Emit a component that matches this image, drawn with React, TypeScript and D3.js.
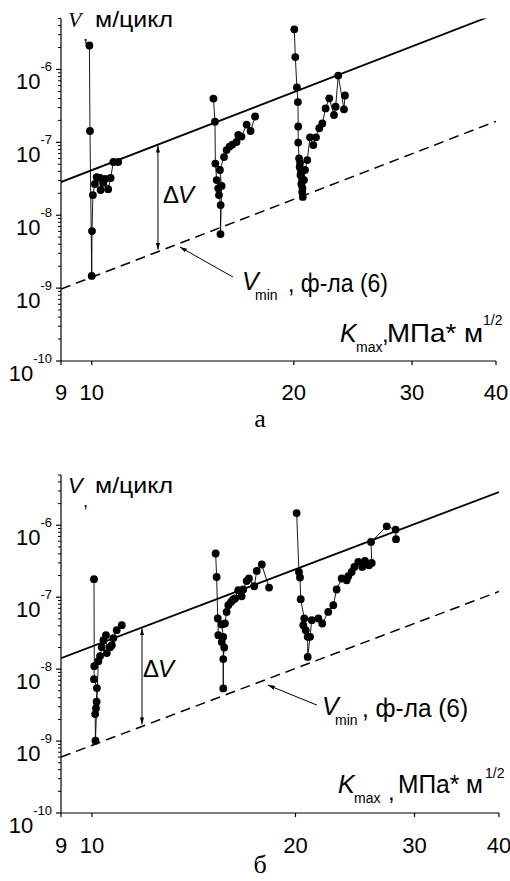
import React from 'react';
import * as d3 from 'd3';

// ---- axes ----
const kTicks = [9, 10, 20, 30, 40];
const vDecades = [-10, -9, -8, -7, -6];
const kDomain: [number, number] = [9, 40];
const vDomain: [number, number] = [1e-10, 5e-6];
const fitK = [9, 40];

// ---- panel а ----
const aS1K = [9.92, 9.94, 10.0, 10.01, 10.04, 10.11, 10.17, 10.29, 10.31, 10.4, 10.47, 10.58, 10.67, 10.77, 10.95];
const aS1V = [2.13e-6, 1.43e-7, 1.47e-9, 6.07e-9, 1.89e-8, 2.68e-8, 3.34e-8, 3.24e-8, 2.22e-8, 2.77e-8, 3.14e-8, 2.28e-8, 3.24e-8, 5.37e-8, 5.37e-8];
const aS2K = [15.18, 15.26, 15.28, 15.35, 15.43, 15.47, 15.56, 15.55, 15.61, 15.52, 15.74, 15.88, 16.04, 16.2, 16.43, 16.53, 16.71, 17.01, 17.24, 17.51];
const aS2V = [3.99e-7, 1.92e-7, 5.12e-8, 3.04e-8, 2.34e-8, 1.89e-8, 1.38e-8, 5.52e-9, 2.52e-8, 4.17e-8, 6.28e-8, 7.83e-8, 8.75e-8, 9.33e-8, 1.01e-7, 1.26e-7, 1.2e-7, 1.75e-7, 1.43e-7, 2.26e-7];
const aS3K = [20.03, 20.1, 20.21, 20.28, 20.3, 20.3, 20.36, 20.43, 20.4, 20.5, 20.46, 20.57, 20.52, 20.6, 20.58, 20.62, 20.71, 20.78, 20.94, 21.14, 21.38, 21.58, 21.82, 22.05, 22.3, 22.58, 22.95, 23.08, 23.29, 23.75, 23.83];
const aS3V = [3.55e-6, 1.48e-6, 5.67e-7, 3.57e-7, 1.65e-7, 9.93e-8, 6.03e-8, 5.2e-8, 4.58e-8, 4.04e-8, 3.56e-8, 3.14e-8, 2.68e-8, 2.36e-8, 2.08e-8, 1.78e-8, 3.04e-8, 4.17e-8, 5.71e-8, 1.17e-7, 9.18e-8, 1.17e-7, 1.56e-7, 1.82e-7, 2.92e-7, 4.02e-7, 2.37e-7, 3.08e-7, 8.24e-7, 2.84e-7, 4.39e-7];
const aSolidV = [2.85e-8, 5.77e-6];
const aDashV = [9.7e-10, 1.94e-7];
const aDeltaK = 12.55;
const aVminArrowK = [16.23, 13.53];
const aVminArrowV = [1.42e-9, 3.66e-9];

// ---- panel б ----
const bS1K = [10.07, 10.08, 10.07, 10.17, 10.16, 10.14, 10.11, 10.12, 10.22, 10.28, 10.34, 10.4, 10.49, 10.52, 10.64, 10.7, 10.76, 10.88, 11.07];
const bS1V = [1.78e-7, 1.1e-8, 7.26e-9, 5.45e-9, 3.52e-9, 2.87e-9, 2.37e-9, 1.01e-9, 1.29e-8, 1.52e-8, 2.02e-8, 2.53e-8, 2.96e-8, 1.67e-8, 2.02e-8, 2.15e-8, 2.7e-8, 3.48e-8, 4.08e-8];
const bS2K = [15.24, 15.29, 15.35, 15.38, 15.56, 15.69, 15.64, 15.64, 15.64, 15.56, 15.73, 15.82, 15.91, 16.06, 16.18, 16.28, 16.46, 16.65, 16.74, 16.94, 17.07, 17.38, 17.53, 17.83, 18.28];
const bS2V = [4.05e-7, 1.91e-7, 5.06e-8, 2.97e-8, 2.39e-8, 2.0e-8, 1.38e-8, 5.4e-9, 2.81e-8, 4.18e-8, 4.31e-8, 6.25e-8, 7.74e-8, 8.61e-8, 9.29e-8, 9.6e-8, 1.25e-7, 1.03e-7, 1.28e-7, 1.68e-7, 1.82e-7, 1.42e-7, 2.32e-7, 2.85e-7, 1.36e-7];
const bS3K = [20.08, 20.24, 20.31, 20.36, 20.61, 20.54, 20.71, 20.85, 20.85, 21.02, 21.14, 21.62, 21.91, 22.36, 22.75, 23.01, 23.41, 23.81, 23.94, 24.22, 24.44, 24.77, 25.11, 25.34, 25.69, 25.93, 25.87, 27.29, 28.13, 28.17];
const bS3V = [1.48e-6, 2.24e-7, 1.88e-7, 9.38e-8, 5.06e-8, 4.08e-8, 3.48e-8, 2.81e-8, 1.48e-8, 2.81e-8, 4.8e-8, 5.06e-8, 4.31e-8, 6.25e-8, 7.74e-8, 1.28e-7, 1.82e-7, 1.72e-7, 1.96e-7, 2.24e-7, 2.64e-7, 3.09e-7, 2.64e-7, 3.19e-7, 2.78e-7, 2.99e-7, 5.86e-7, 9.68e-7, 8.71e-7, 6.4e-7];
const bSolidV = [1.42e-8, 2.9e-6];
const bDashV = [6.0e-10, 1.2e-7];
const bDeltaK = 11.86;
const bVminArrowK = [21.52, 18.21];
const bVminArrowV = [3.16e-9, 6.0e-9];

const SANS = "Arial, 'Liberation Sans', sans-serif";
const SERIF = "'Times New Roman', 'Liberation Serif', serif";

const zip = (ks: number[], vs: number[]) => ks.map((k, i) => [k, vs[i]] as [number, number]);

type PanelCfg = {
  id: string;
  left: number; right: number; top: number; bottom: number;
  series: [number, number][][];
  solid: number[]; dash: number[];
  deltaK: number;
  vminK: number[]; vminV: number[];
  label: string;
  t: any;
};

function Panel({ c }: { c: PanelCfg }) {
  const x = d3.scaleLog().domain(kDomain).range([c.left, c.right]);
  const y = d3.scaleLog().domain(vDomain).range([c.bottom, c.top]);
  const line = d3.line<[number, number]>().x(d => x(d[0])).y(d => y(d[1]));
  const fitAt = (vs: number[], k: number) => {
    const f = Math.log10(k / fitK[0]) / Math.log10(fitK[1] / fitK[0]);
    return Math.pow(10, Math.log10(vs[0]) + (Math.log10(vs[1]) - Math.log10(vs[0])) * f);
  };
  const minors: number[] = [];
  vDecades.forEach(d => {
    for (let m = 2; m <= 9; m++) {
      const v = m * Math.pow(10, d);
      if (v <= vDomain[1] * 1.0001) minors.push(v);
    }
  });
  const t = c.t;
  const dx = x(c.deltaK);
  return (
    <g>
      <defs>
        <clipPath id={`clip-${c.id}`}>
          <rect x={c.left} y={c.top} width={c.right - c.left} height={c.bottom - c.top} />
        </clipPath>
      </defs>
      {/* axes */}
      <line x1={c.left} x2={c.left} y1={c.top} y2={c.bottom} stroke="#000" strokeWidth={1.2} />
      <line x1={c.left} x2={c.right} y1={c.bottom} y2={c.bottom} stroke="#000" strokeWidth={1.2} />
      {minors.map((v, i) => (
        <line key={'m' + i} x1={c.left - 3} x2={c.left} y1={y(v)} y2={y(v)} stroke="#000" strokeWidth={1} />
      ))}
      {vDecades.map(d => (
        <line key={'M' + d} x1={c.left - 5} x2={c.left} y1={y(Math.pow(10, d))} y2={y(Math.pow(10, d))} stroke="#000" strokeWidth={1.2} />
      ))}
      {vDecades.map(d => (
        <text key={'L' + d} x={52} y={y(Math.pow(10, d)) + 20} textAnchor="end" fontFamily={SANS} fontSize={22}>
          10<tspan dy={-18} fontSize={13}>{String(d)}</tspan>
        </text>
      ))}
      {kTicks.map(k => (
        <g key={'x' + k}>
          <line x1={x(k)} x2={x(k)} y1={c.bottom} y2={c.bottom + 4} stroke="#000" strokeWidth={1.2} />
          <text x={x(k)} y={c.bottom + t.xLabDy} textAnchor="middle" fontFamily={SANS} fontSize={22}>{k}</text>
        </g>
      ))}
      {/* fitted lines */}
      <g clipPath={`url(#clip-${c.id})`}>
        <path d={line(zip(fitK, c.solid)) || ''} fill="none" stroke="#000" strokeWidth={1.8} />
        <path d={line(zip(fitK, c.dash)) || ''} fill="none" stroke="#000" strokeWidth={1.5} strokeDasharray="10,6" />
      </g>
      {/* data */}
      {c.series.map((s, i) => (
        <path key={'s' + i} d={line(s) || ''} fill="none" stroke="#000" strokeWidth={0.9} />
      ))}
      {c.series.map((s, i) => s.map((p, j) => (
        <circle key={`c${i}-${j}`} cx={x(p[0])} cy={y(p[1])} r={3.9} fill="#000" />
      )))}
      {/* ΔV arrow */}
      <line x1={dx} x2={dx} y1={y(fitAt(c.solid, c.deltaK)) + 1} y2={y(fitAt(c.dash, c.deltaK)) - 2}
        stroke="#000" strokeWidth={1} markerStart="url(#arr)" markerEnd="url(#arr)" />
      <text x={t.dvX} y={t.dvY} fontFamily={SANS} fontSize={24}>Δ</text>
      <text x={t.dvX + 15} y={t.dvY} fontFamily={SANS} fontSize={24} fontStyle="italic">V</text>
      {/* Vmin arrow */}
      <line x1={x(c.vminK[0])} y1={y(c.vminV[0])} x2={x(c.vminK[1])} y2={y(c.vminV[1])}
        stroke="#000" strokeWidth={1} markerEnd="url(#arr)" />
      <text x={t.vmX} y={t.vmY} fontFamily={SANS} fontSize={25} fontStyle="italic">V</text>
      <text x={t.vmX + 13} y={t.vmY + 10} fontFamily={SANS} fontSize={14}>min</text>
      <text x={t.vmX + t.vmRest} y={t.vmY + 2} fontFamily={SANS} fontSize={25}
        textLength={t.vmLen} lengthAdjust="spacingAndGlyphs">, ф-ла (6)</text>
      {/* y title */}
      <text x={68} y={t.yTitY} fontFamily={t.vSerif ? SERIF : SANS} fontStyle="italic" fontSize={22}>V</text>
      <text x={83} y={t.yTitY + 14} fontFamily={SANS} fontSize={18}>,</text>
      <text x={95} y={t.yTitY} fontFamily={SANS} fontSize={22} textLength={78} lengthAdjust="spacingAndGlyphs">м/цикл</text>
      {/* x title */}
      <text x={t.kX} y={t.kY} fontFamily={SANS} fontStyle="italic" fontSize={25}>K</text>
      <text x={t.kX + 16} y={t.kY + 10} fontFamily={SANS} fontSize={14}>max</text>
      <text x={t.kX + t.commaDx} y={t.kY + t.commaDy} fontFamily={SANS} fontSize={24}>,</text>
      <text x={t.kX + t.unitDx} y={t.kY} fontFamily={SANS} fontSize={25}
        textLength={t.unitLen} lengthAdjust="spacingAndGlyphs">МПа* м</text>
      <text x={t.kX + t.supDx} y={t.kY + t.supDy} fontFamily={SANS} fontSize={14}>1/2</text>
      {/* panel label */}
      <text x={260} y={t.labY} textAnchor="middle" fontFamily={SERIF} fontSize={26}>{c.label}</text>
    </g>
  );
}

export default function App() {
  const panels: PanelCfg[] = [
    {
      id: 'a', left: 61, right: 496, top: 18.5, bottom: 361,
      series: [zip(aS1K, aS1V), zip(aS2K, aS2V), zip(aS3K, aS3V)],
      solid: aSolidV, dash: aDashV, deltaK: aDeltaK, vminK: aVminArrowK, vminV: aVminArrowV,
      label: 'а',
      t: { xLabDy: 39, dvX: 163, dvY: 203, vmX: 242, vmY: 290, vmRest: 46, vmLen: 100, yTitY: 27, vSerif: true,
        kX: 340, kY: 342, commaDx: 42, commaDy: 0, unitDx: 47, unitLen: 96, supDx: 143, supDy: -17, labY: 427 },
    },
    {
      id: 'b', left: 61, right: 499, top: 475, bottom: 813,
      series: [zip(bS1K, bS1V), zip(bS2K, bS2V), zip(bS3K, bS3V)],
      solid: bSolidV, dash: bDashV, deltaK: bDeltaK, vminK: bVminArrowK, vminV: bVminArrowV,
      label: 'б',
      t: { xLabDy: 40, dvX: 143, dvY: 677, vmX: 322, vmY: 715, vmRest: 40, vmLen: 106, yTitY: 493, vSerif: false,
        kX: 338, kY: 793, commaDx: 50, commaDy: 7, unitDx: 60, unitLen: 85, supDx: 147, supDy: -15, labY: 873 },
    },
  ];
  return (
    <svg width={510} height={881} style={{ position: 'absolute', left: 0, top: 0, background: '#fff' }}>
      <defs>
        <marker id="arr" viewBox="0 0 10 6" refX={10} refY={3} markerWidth={7} markerHeight={4.2}
          orient="auto-start-reverse" markerUnits="userSpaceOnUse">
          <path d="M0,0 L10,3 L0,6 z" fill="#000" />
        </marker>
      </defs>
      <rect x={0} y={0} width={510} height={881} fill="#fff" />
      {panels.map(p => <Panel key={p.id} c={p} />)}
    </svg>
  );
}
